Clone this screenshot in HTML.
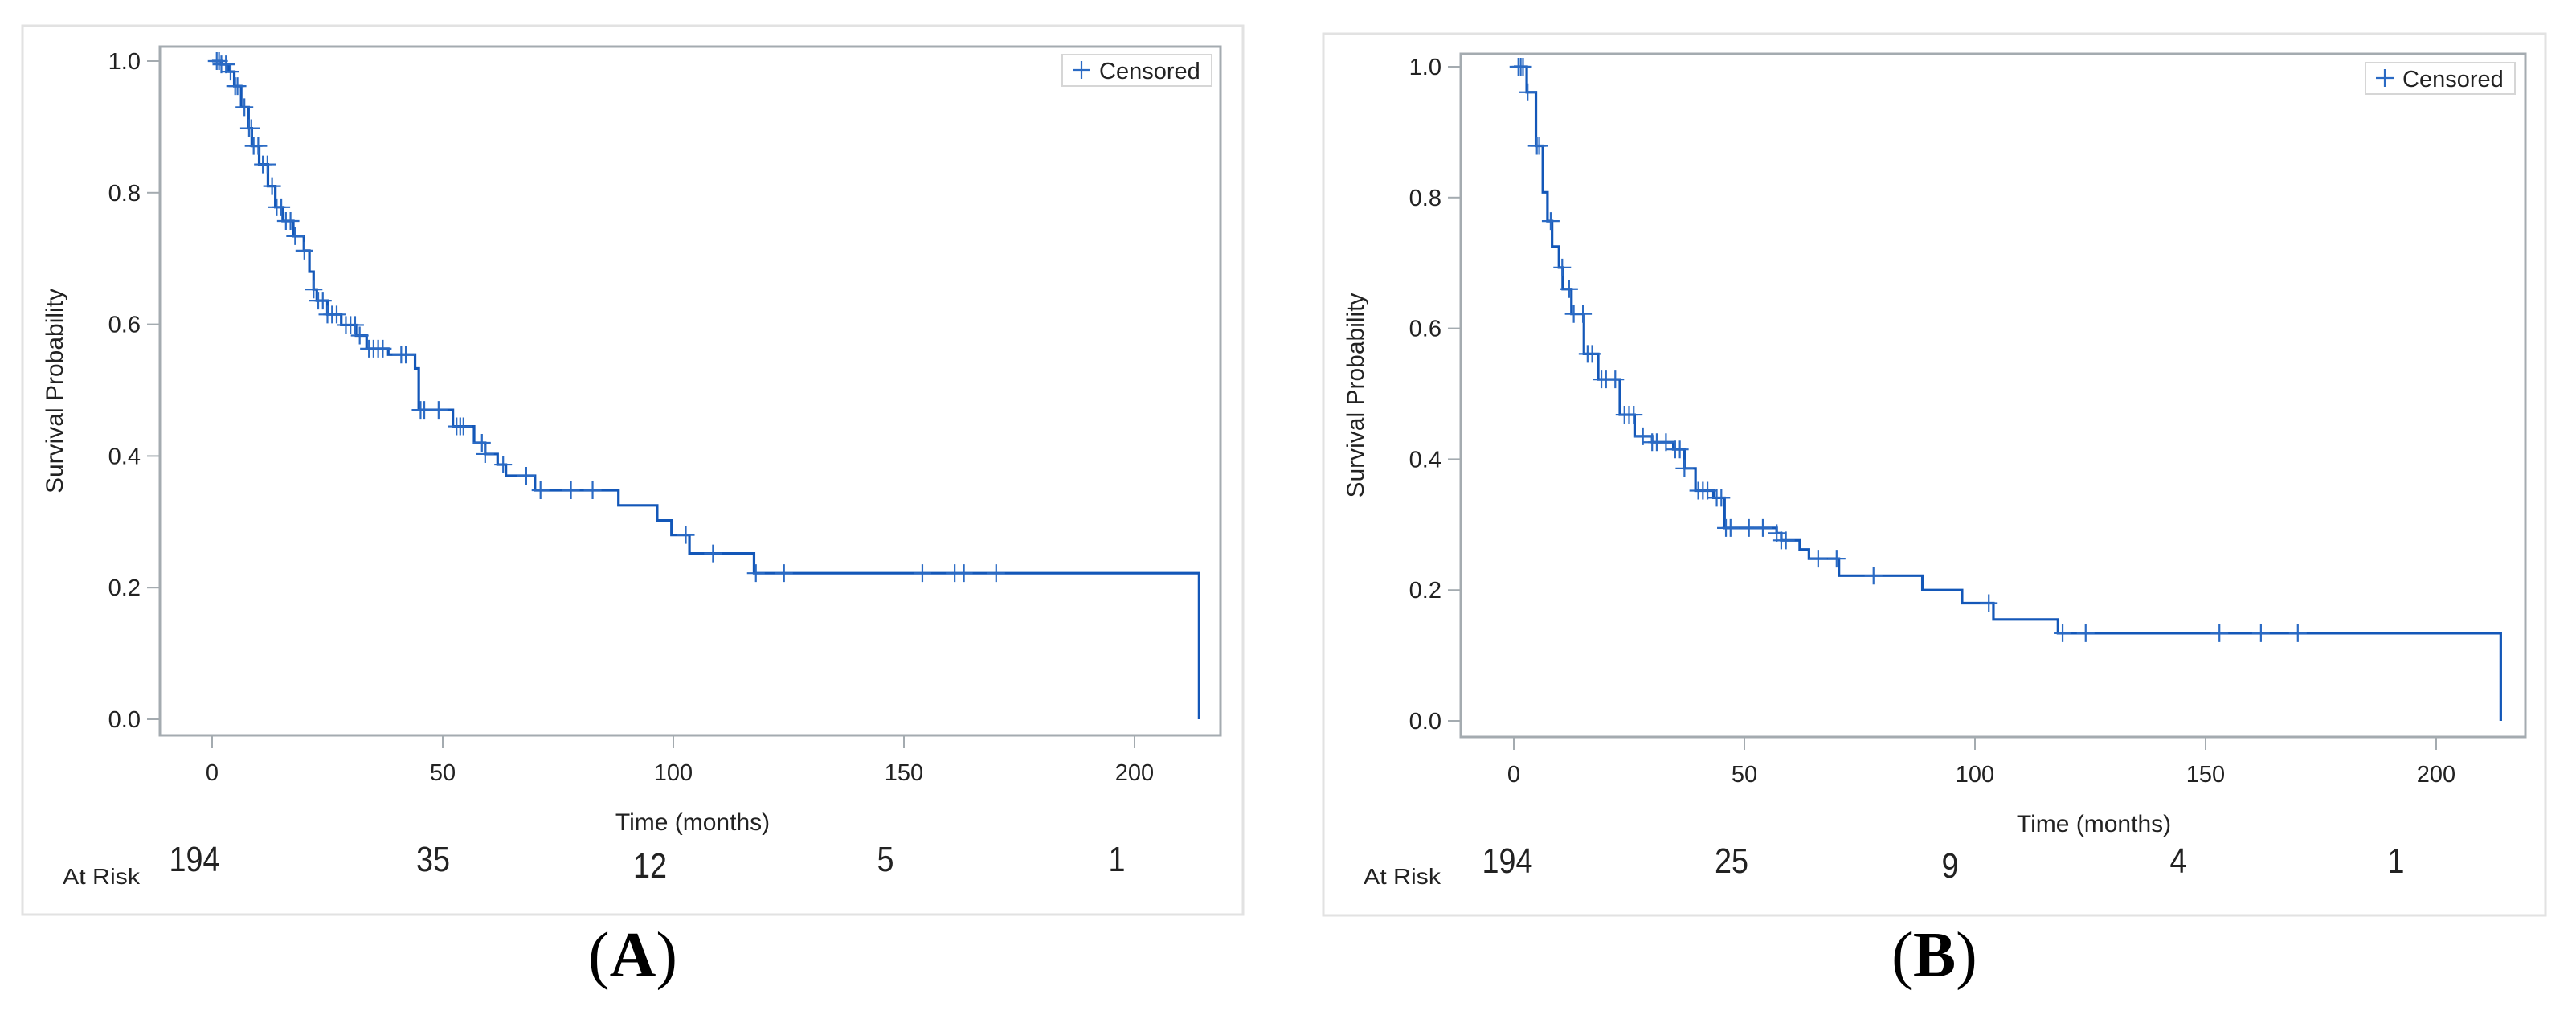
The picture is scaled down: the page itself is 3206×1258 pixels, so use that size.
<!DOCTYPE html>
<html><head><meta charset="utf-8">
<style>
html,body{margin:0;padding:0;background:#fff;}
svg{display:block;}
text{font-family:"Liberation Sans",sans-serif;fill:#222;}
</style></head>
<body>
<svg id="fig" width="3206" height="1258" viewBox="0 0 3206 1258" xmlns="http://www.w3.org/2000/svg"></svg>
<script>
// ---- Panel A data ----
const timesA = [0,2,3.6,4.8,6.3,7.9,8.6,10.2,12.1,13.7,15.3,17.6,19.9,21.1,22,22.7,25,28,31.2,33.5,38.2,44,44.8,52.2,56.8,59.2,61.9,63.7,70,88.1,96.5,99.6,103.5,117.5,214];
const survA = [1,0.995,0.984,0.962,0.93,0.898,0.871,0.843,0.81,0.778,0.757,0.734,0.712,0.68,0.653,0.636,0.615,0.599,0.583,0.563,0.554,0.533,0.47,0.445,0.42,0.403,0.387,0.37,0.348,0.325,0.302,0.28,0.252,0.222,0];
const censorA = [1,1.5,2,3,4,5,5.5,7,8,8.5,9,10,11,12,13,14,15,16,17,18,20,22,23,24,25,26,27,29,30,31,32,34,35,36,37,41,42,45.2,46,49.1,53,53.8,54.5,58.5,59.2,63.1,68.1,71.2,77.8,82.5,102.7,108.6,117.9,124,154,161,163,170];
const atRiskA = ["194","35","12","5","1"];
// ---- Panel B data ----
const timesB = [0,2.8,4.8,6.3,7.3,8.3,9.8,10.6,12.5,15.2,18.3,23,26.2,30,34.6,37,39.4,43.3,45.7,57,58,62,64,70.5,88.6,97.2,104,118,214];
const survB = [1,0.961,0.879,0.808,0.764,0.725,0.693,0.66,0.622,0.561,0.522,0.468,0.435,0.426,0.415,0.386,0.352,0.341,0.295,0.287,0.276,0.262,0.248,0.222,0.2,0.18,0.155,0.134,0];
const censorB = [1,1.5,2,3,5,5.5,8,10.5,12,13,15,16,17,19,20,22,24,25,26,28,30,31,33,35,36,37,40,41,42,44,45,46,47,51,54,57,58,59,66,70,78,103,119,124,153,162,170];
const atRiskB = ["194","25","9","4","1"];
// ---- shared ticks ----
const xTicks = [0,50,100,150,200];
const yTicks = [0,0.2,0.4,0.6,0.8,1.0];

const NS="http://www.w3.org/2000/svg";
const svg=document.getElementById('fig');
function mk(tag,attrs,parent){const e=document.createElementNS(NS,tag);for(const k in attrs)e.setAttribute(k,attrs[k]);(parent||svg).appendChild(e);return e;}
function txt(s,attrs,parent){const e=mk('text',attrs,parent);e.textContent=s;return e;}

function panel(cfg){
  const g=mk('g',{});
  
  
  const xs=t=>cfg.x0+t*cfg.kx;
  const ys=v=>cfg.y0-v*cfg.ky;
  const ob=mk('rect',{x:cfg.ox1,y:cfg.oy1,width:cfg.ox2-cfg.ox1,height:cfg.oy2-cfg.oy1,fill:'#fff',stroke:'#e2e2e2','stroke-width':3},g);
  
  
  const fr=mk('rect',{x:cfg.fx1,y:cfg.fy1,width:cfg.fx2-cfg.fx1,height:cfg.fy2-cfg.fy1,fill:'none',stroke:'#a4abb0','stroke-width':3},g);
  
  
  yTicks.forEach(v=>{
    const l=mk('line',{x1:cfg.fx1-16,x2:cfg.fx1,y1:ys(v),y2:ys(v),stroke:'#a4abb0','stroke-width':2},g);
    
    
    const t=txt(v.toFixed(1),{x:cfg.fx1-24,y:ys(v)+10,'text-anchor':'end','font-size':29},g);
    
    
  });
  xTicks.forEach(v=>{
    const l=mk('line',{x1:xs(v),x2:xs(v),y1:cfg.fy2,y2:cfg.fy2+16,stroke:'#a4abb0','stroke-width':2},g);
    
    
    const t=txt(String(v),{x:xs(v),y:cfg.fy2+56,'text-anchor':'middle','font-size':29},g);
    
    
  });
  const yt=txt('Survival Probability',{x:0,y:0,'text-anchor':'middle','font-size':30,transform:`translate(${cfg.ytx},${(cfg.fy1+cfg.fy2)/2}) rotate(-90)`},g);
  
  
  const xt=txt('Time (months)',{x:cfg.xtx,y:cfg.fy2+118,'text-anchor':'middle','font-size':30},g);
  
  
  const T=cfg.times,S=cfg.surv;
  let d=`M${xs(T[0])},${ys(S[0])}`;
  for(let i=1;i<T.length;i++){d+=` H${xs(T[i])} V${ys(S[i])}`;}
  const p=mk('path',{d:d,fill:'none',stroke:'#1357b8','stroke-width':3.2},g);
  
  
  const sAt=t=>{let v=S[0];for(let i=0;i<T.length;i++){if(T[i]<=t)v=S[i];}return v;};
  cfg.censor.forEach(t=>{
    const cx=xs(t),cy=ys(sAt(t));
    const c=mk('path',{d:`M${cx-11},${cy} H${cx+11} M${cx},${cy-11} V${cy+11}`,stroke:'#2a6ac4','stroke-width':2.2,fill:'none'},g);
    
    
  });
  const lg=mk('g',{},g);
  
  
  mk('rect',{x:cfg.lx,y:cfg.ly,width:186,height:39,fill:'#fff',stroke:'#d6d6d6','stroke-width':2},lg);
  mk('path',{d:`M${cfg.lx+13},${cfg.ly+19} h22 M${cfg.lx+24},${cfg.ly+8} v22`,stroke:'#2a6ac4','stroke-width':2.2},lg);
  const lt=txt('Censored',{x:cfg.lx+46,y:cfg.ly+30,'font-size':29},lg);
  
  
  const ar=txt('At Risk',{x:cfg.ox1+50,y:1100,'font-size':28,'textLength':96,'lengthAdjust':'spacingAndGlyphs'},g);
  
  
  cfg.atRisk.forEach((s,i)=>{
    const t=txt(s,{x:cfg.arX[i],y:cfg.arY[i],'text-anchor':'middle','font-size':44,'textLength':s.length*21,'lengthAdjust':'spacingAndGlyphs'},g);
    
    
  });
  const lab=mk('text',{x:(cfg.ox1+cfg.ox2)/2,y:1215,'text-anchor':'middle','font-size':80,style:'font-family:"Liberation Serif",serif;fill:#000'},svg);
  
  
  lab.innerHTML='(<tspan font-weight="bold">'+cfg.label+'</tspan>)';
}

panel({name:'panel-a',label:'A',ox1:28,oy1:32,ox2:1547,oy2:1138,fx1:199,fy1:58,fx2:1519,fy2:915,
  x0:264,kx:5.74,y0:895,ky:819,ytx:78,xtx:862,lx:1322,ly:68,
  times:timesA,surv:survA,censor:censorA,atRisk:atRiskA,
  arX:[242,539,809,1102,1390],arY:[1084,1084,1092,1084,1084]});
panel({name:'panel-b',label:'B',ox1:1647,oy1:42,ox2:3168,oy2:1139,fx1:1818,fy1:67,fx2:3143,fy2:917,
  x0:1884,kx:5.74,y0:897,ky:814,ytx:1697,xtx:2606,lx:2944,ly:78,
  times:timesB,surv:survB,censor:censorB,atRisk:atRiskB,
  arX:[1876,2155,2427,2711,2982],arY:[1086,1086,1092,1086,1086]});
</script>
</body></html>
